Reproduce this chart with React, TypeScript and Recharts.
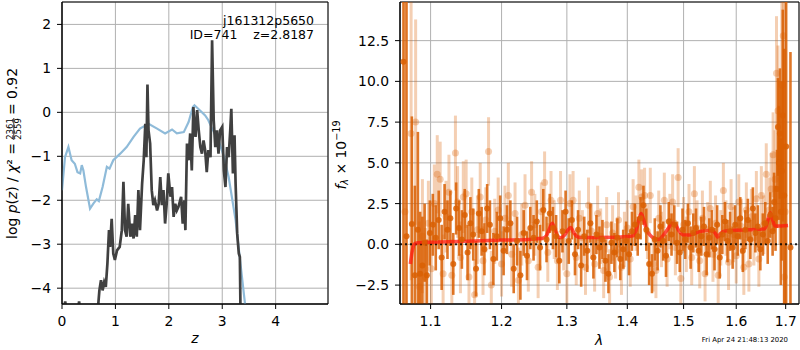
import React from 'react';
import {
  LineChart, Line, XAxis, YAxis, CartesianGrid, ComposedChart, Scatter, ErrorBar,
  ReferenceLine, ReferenceArea,
} from 'recharts';

const FONT = '"DejaVu Sans", sans-serif';
const ORANGE_DARK = 'rgba(217,95,2,0.85)';
const ORANGE_LIGHT = 'rgba(217,95,2,0.3)';

// left panel: redshift axis
const zTicks = [0, 1, 2, 3, 4];
const pzTicks = [-4, -3, -2, -1, 0, 1, 2];
const Z_DOMAIN: [number, number] = [0, 4.98];
const PZ_DOMAIN: [number, number] = [-4.36, 2.51];

// right panel: wavelength axis (log scale)
const waveTicks = [1.1, 1.2, 1.3, 1.4, 1.5, 1.6, 1.7];
const fluxTicks = [-2.5, 0, 2.5, 5, 7.5, 10, 12.5];
const WAVE_DOMAIN: [number, number] = [1.0595, 1.728];
const FLUX_DOMAIN: [number, number] = [-3.66, 14.87];

// chi2 curve [z, value]
const chi2Curve: [number, number][] = [
  [0, -1.77], [0.056, -1.02], [0.12, -0.79], [0.18, -1.09], [0.24, -1.17], [0.29, -1.36],
  [0.34, -1.39], [0.37, -1.2], [0.4, -1.32], [0.45, -1.7], [0.525, -2.19], [0.59, -2.07],
  [0.65, -1.98], [0.69, -2.02], [0.76, -1.7], [0.84, -1.24], [0.89, -1.28], [0.96, -1.09],
  [1.09, -0.94], [1.21, -0.79], [1.34, -0.56], [1.46, -0.37], [1.62, -0.26], [1.78, -0.37],
  [1.93, -0.48], [2.06, -0.39], [2.15, -0.48], [2.28, -0.45], [2.37, -0.22], [2.45, 0.12],
  [2.48, 0.16], [2.55, 0.08], [2.68, -0.07], [2.74, -0.18], [2.81, -0.37], [2.93, -0.64],
  [3.03, -1.0], [3.12, -1.47], [3.25, -2.45], [3.34, -3.43], [3.43, -4.4],
];

// log p(z) curve [z, value]
const pzCurve: [number, number][] = [
  [0, -4.6], [0.04, -4.45], [0.06, -4.3], [0.08, -4.5], [0.2, -4.8], [0.3, -4.5], [0.32, -4.3],
  [0.34, -4.5], [0.5, -4.9], [0.66, -4.7], [0.68, -4.35], [0.7, -4.05], [0.73, -3.82],
  [0.76, -4.05], [0.79, -3.86], [0.82, -3.97], [0.85, -3.44], [0.88, -2.68], [0.9, -3.06],
  [0.93, -2.42], [0.96, -3.21], [0.99, -3.36], [1.03, -3.14], [1.08, -3.06], [1.12, -2.68],
  [1.15, -1.58], [1.18, -2.68], [1.21, -2.83], [1.24, -2.08], [1.28, -2.83], [1.31, -2.53],
  [1.34, -2.87], [1.37, -2.34], [1.4, -2.83], [1.43, -1.77], [1.46, -2.68], [1.5, -1.62],
  [1.53, -1.09], [1.56, -0.26], [1.58, -1.02], [1.6, 0.63], [1.62, -0.41], [1.65, -0.71],
  [1.68, -1.77], [1.71, -2.11], [1.74, -2.0], [1.78, -2.23], [1.81, -2.08], [1.84, -1.47],
  [1.87, -2.11], [1.9, -1.77], [1.93, -2.53], [1.96, -2.08], [1.99, -1.39], [2.03, -1.92],
  [2.06, -1.7], [2.09, -2.38], [2.12, -2.08], [2.15, -2.23], [2.18, -2.15], [2.23, -1.92],
  [2.26, -2.53], [2.29, -2.0], [2.31, -2.68], [2.34, -0.71], [2.37, -1.09], [2.4, -0.48],
  [2.43, -1.32], [2.46, 0.12], [2.48, -0.33], [2.5, -0.56], [2.53, 0.05], [2.56, -0.41],
  [2.59, -0.79], [2.62, -0.94], [2.65, -0.64], [2.68, -0.86], [2.71, -1.36], [2.74, -0.86],
  [2.78, -1.02], [2.81, 1.64], [2.84, -0.18], [2.87, -0.79], [2.9, -0.41], [2.93, -0.94],
  [2.96, -0.41], [3.0, -0.33], [3.03, -1.32], [3.06, -1.7], [3.09, -0.79], [3.12, -1.02],
  [3.15, -0.41], [3.17, 0.08], [3.2, -1.39], [3.23, -0.52], [3.25, -1.62], [3.28, -2.76],
  [3.31, -3.21], [3.33, -3.29], [3.34, -4.35], [3.36, -5.0],
];

// best-fit template [lambda, flux]
const modelCurve: [number, number][] = [
  [1.073, -1.2], [1.076, -0.3], [1.079, 0.05], [1.083, 0.1], [1.09, 0.12], [1.1, 0.13],
  [1.15, 0.19], [1.2, 0.26], [1.24, 0.3], [1.262, 0.37], [1.268, 0.55], [1.273, 1.0],
  [1.277, 1.3], [1.281, 0.95], [1.285, 0.55], [1.29, 0.4], [1.296, 0.55], [1.301, 0.85],
  [1.306, 1.04], [1.311, 0.72], [1.316, 0.48], [1.322, 0.42], [1.35, 0.42], [1.38, 0.43],
  [1.4, 0.48], [1.41, 0.52], [1.416, 0.95], [1.421, 1.65], [1.424, 1.9], [1.428, 1.55],
  [1.433, 0.95], [1.44, 0.55], [1.448, 0.35], [1.455, 0.3], [1.463, 0.55], [1.472, 0.98],
  [1.479, 1.3], [1.485, 1.22], [1.492, 0.8], [1.5, 0.57], [1.51, 0.57], [1.52, 0.66],
  [1.53, 0.78], [1.545, 0.85], [1.555, 0.82], [1.56, 0.65], [1.564, 0.43], [1.569, 0.65],
  [1.58, 0.84], [1.6, 0.86], [1.62, 0.89], [1.645, 0.92], [1.657, 0.96], [1.663, 1.45],
  [1.668, 1.94], [1.673, 1.5], [1.678, 1.12], [1.69, 1.12], [1.705, 1.15],
];

// spectrum, strong points [lambda, flux, err]
const darkPoints: [number, number, number][] = [
  [1.064, 11.2, 20], [1.068, 0.5, 16], [1.075, 1.25, 6.6], [1.079, -1.9, 5.5], [1.083, 0.9, 6.0],
  [1.086, -1.8, 3.8], [1.089, -1.3, 3.0], [1.092, 0.1, 2.4], [1.095, -1.9, 2.2], [1.099, 0.7, 2.0],
  [1.103, 1.2, 1.9], [1.107, 0.4, 2.0], [1.111, 1.5, 1.8], [1.115, -0.8, 2.0], [1.119, 2.0, 1.7],
  [1.123, 0.9, 1.8], [1.127, 1.6, 1.7], [1.131, -1.2, 1.9], [1.135, 2.2, 1.6], [1.139, 1.0, 1.7],
  [1.143, 0.3, 1.8], [1.147, 1.8, 1.6], [1.151, -0.5, 1.7], [1.155, 1.3, 1.6], [1.159, 0.6, 1.6],
  [1.163, -1.5, 1.7], [1.167, 1.9, 1.5], [1.171, 0.8, 1.5], [1.175, -0.3, 1.6], [1.179, 2.2, 1.5],
  [1.183, 1.2, 1.5], [1.188, -0.9, 1.6], [1.193, 0.5, 1.5], [1.198, 1.6, 1.4], [1.203, -0.4, 1.5],
  [1.208, 0.9, 1.5], [1.213, 1.3, 1.4], [1.218, -1.5, 1.5], [1.223, 0.2, 1.5], [1.228, -1.9, 1.5],
  [1.233, 0.7, 1.4], [1.238, -0.7, 1.5], [1.243, 1.0, 1.3], [1.248, 0.4, 1.4], [1.253, 1.4, 1.3],
  [1.258, -0.2, 1.4], [1.263, 2.1, 1.3], [1.268, 0.3, 1.4], [1.273, 1.9, 1.2], [1.278, 1.0, 1.3],
  [1.283, 0.5, 1.3], [1.288, -1.0, 1.4], [1.293, 0.8, 1.3], [1.298, 2.0, 1.3], [1.303, 0.2, 1.4],
  [1.308, 1.5, 1.2], [1.313, -0.6, 1.3], [1.318, 0.9, 1.2], [1.323, -1.3, 1.3], [1.328, 0.5, 1.2],
  [1.333, -0.4, 1.3], [1.338, 1.3, 1.2], [1.343, -0.8, 1.3], [1.348, 0.6, 1.2], [1.353, -0.2, 1.3],
  [1.358, 0.3, 1.2], [1.363, -1.0, 1.3], [1.368, -1.8, 1.2], [1.373, 0.1, 1.3], [1.378, -0.5, 1.2],
  [1.383, 0.4, 1.2], [1.388, -0.9, 1.3], [1.393, -0.3, 1.2], [1.398, 0.2, 1.2], [1.403, -0.6, 1.3],
  [1.408, 0.8, 1.2], [1.413, 1.2, 1.3], [1.418, 0.5, 1.2], [1.423, 1.6, 1.3], [1.428, 2.4, 1.2],
  [1.433, 0.9, 1.3], [1.438, -1.2, 1.3], [1.443, -1.8, 1.2], [1.448, 0.3, 1.3], [1.453, -0.4, 1.2],
  [1.458, 1.1, 1.3], [1.463, 0.2, 1.2], [1.468, -0.7, 1.3], [1.473, 1.4, 1.2], [1.478, 0.6, 1.3],
  [1.483, 1.2, 1.2], [1.488, 0.1, 1.3], [1.493, -0.5, 1.2], [1.498, 0.9, 1.3], [1.503, 0.3, 1.2],
  [1.508, 1.3, 1.2], [1.513, -0.2, 1.3], [1.518, 0.7, 1.2], [1.523, 1.0, 1.2], [1.528, -0.4, 1.3],
  [1.533, 0.5, 1.2], [1.538, 1.1, 1.2], [1.543, -0.6, 1.3], [1.548, 0.4, 1.2], [1.553, 0.9, 1.2],
  [1.558, -0.3, 1.3], [1.563, 1.2, 1.2], [1.568, -0.8, 1.3], [1.573, 0.6, 1.2], [1.578, 1.4, 1.2],
  [1.583, 0.2, 1.3], [1.588, 0.8, 1.2], [1.593, -0.2, 1.3], [1.598, 1.2, 1.2], [1.603, 0.5, 1.2],
  [1.608, 1.6, 1.3], [1.613, -0.4, 1.3], [1.618, 0.9, 1.2], [1.623, 1.5, 1.3], [1.628, 0.3, 1.2],
  [1.633, 2.2, 1.3], [1.638, 0.7, 1.2], [1.643, 1.1, 1.3], [1.648, -0.3, 1.3], [1.653, 0.6, 1.3],
  [1.658, 1.3, 1.3], [1.663, 0.2, 1.4], [1.668, 1.8, 1.4], [1.673, 0.8, 1.5], [1.676, 2.6, 1.8],
  [1.679, 1.6, 2.0], [1.682, 3.4, 2.4], [1.684, 7.2, 3.0], [1.686, 5.0, 3.5], [1.688, 6.8, 4.0],
  [1.69, 2.0, 4.5], [1.692, 4.5, 5.5], [1.694, 7.9, 6.5], [1.697, 3.0, 9], [1.701, 6.0, 10],
  [1.71, -0.2, 12],
];

// spectrum, weak points [lambda, flux, err]
const lightPoints: [number, number, number][] = [
  [1.066, 2.0, 20], [1.074, 6.8, 9], [1.08, 7.5, 6.3], [1.085, -2.6, 4], [1.089, 0.5, 3.5],
  [1.093, -2.0, 3.0], [1.097, 1.3, 2.6], [1.101, -1.5, 2.5], [1.105, 2.5, 2.4], [1.109, 4.3, 2.4],
  [1.113, 4.0, 2.3], [1.117, -1.8, 2.4], [1.121, 1.7, 2.2], [1.125, 3.2, 2.3], [1.129, -1.9, 2.2],
  [1.134, 5.6, 2.3], [1.137, 2.6, 2.2], [1.141, -0.8, 2.2], [1.145, 2.9, 2.2], [1.149, 3.1, 2.1],
  [1.153, -2.0, 2.2], [1.157, 2.0, 2.1], [1.161, -3.1, 2.2], [1.165, 0.9, 2.1], [1.169, 2.9, 2.1],
  [1.173, -1.0, 2.1], [1.177, 1.5, 2.0], [1.181, 5.7, 2.1], [1.185, -2.5, 2.1], [1.19, 0.8, 2.0],
  [1.195, 2.1, 2.0], [1.2, -1.2, 2.0], [1.205, 1.6, 2.0], [1.21, 3.0, 2.0], [1.215, -0.6, 2.0],
  [1.22, 1.9, 1.9], [1.225, -2.2, 2.0], [1.23, 0.6, 1.9], [1.235, 2.4, 1.9], [1.24, -1.0, 1.9],
  [1.245, 3.2, 1.9], [1.25, 1.2, 1.9], [1.255, -1.4, 1.9], [1.26, 2.0, 1.8], [1.265, 3.8, 1.9],
  [1.27, -0.5, 1.8], [1.275, 2.7, 1.8], [1.28, 0.9, 1.8], [1.285, -1.0, 1.8], [1.29, 2.7, 1.8],
  [1.295, 0.2, 1.8], [1.3, -1.8, 1.8], [1.305, 2.5, 1.8], [1.31, 2.7, 1.8], [1.315, -0.8, 1.7],
  [1.32, 1.6, 1.7], [1.325, 0.4, 1.7], [1.33, -1.4, 1.7], [1.335, 2.4, 1.7], [1.34, 0.8, 1.7],
  [1.345, -1.2, 1.7], [1.35, 1.9, 1.7], [1.355, 0.5, 1.7], [1.36, -1.6, 1.7], [1.365, 1.2, 1.7],
  [1.37, -2.0, 1.7], [1.375, 0.7, 1.7], [1.38, -0.4, 1.7], [1.385, 1.5, 1.7], [1.39, -1.4, 1.7],
  [1.395, 0.3, 1.7], [1.4, 1.0, 1.7], [1.405, -0.9, 1.7], [1.41, 2.3, 1.7], [1.415, 1.3, 1.7],
  [1.42, 3.5, 1.7], [1.425, 2.9, 1.7], [1.43, 3.0, 1.7], [1.435, 0.8, 1.7], [1.44, 3.0, 1.7],
  [1.445, -1.2, 1.7], [1.45, -1.6, 1.7], [1.455, 1.6, 1.7], [1.46, 0.3, 1.7], [1.465, 2.7, 1.7],
  [1.47, -0.9, 1.7], [1.475, 1.4, 1.7], [1.48, 2.6, 1.7], [1.485, -0.2, 1.7], [1.49, 4.1, 1.8],
  [1.495, -2.1, 1.7], [1.5, 1.2, 1.7], [1.505, 0.0, 1.7], [1.51, 2.0, 1.7], [1.515, -0.8, 1.7],
  [1.52, 3.1, 1.7], [1.525, 1.0, 1.7], [1.53, -1.0, 1.7], [1.535, 1.6, 1.7], [1.54, -1.8, 1.7],
  [1.545, 0.9, 1.7], [1.55, 2.2, 1.7], [1.555, -0.6, 1.7], [1.56, 1.3, 1.7], [1.565, -1.9, 1.7],
  [1.57, 0.4, 1.7], [1.575, 3.3, 1.7], [1.58, 1.0, 1.7], [1.585, -1.1, 1.7], [1.59, 2.3, 1.7],
  [1.595, 0.6, 1.7], [1.6, -0.7, 1.7], [1.605, 2.6, 1.7], [1.61, 1.1, 1.7], [1.615, -1.4, 1.7],
  [1.62, 2.1, 1.7], [1.625, -1.2, 1.7], [1.63, 1.7, 1.7], [1.635, 0.4, 1.7], [1.64, 2.8, 1.7],
  [1.645, -0.9, 1.7], [1.65, 3.0, 1.8], [1.655, 1.2, 1.8], [1.66, 4.3, 1.9], [1.666, 2.1, 2.0],
  [1.67, 3.4, 2.2], [1.674, 5.5, 2.6], [1.678, 4.0, 3], [1.681, 10.5, 3.5], [1.684, 8.2, 4],
  [1.688, 5.0, 5], [1.692, 9.8, 6], [1.695, 12.8, 7], [1.697, -2.0, 12], [1.699, 2.0, 13],
];

// error bars are cut at the plot frame, like matplotlib does
const toSpec = ([w, f, e]: [number, number, number]) => ({
  w, f, e: [Math.min(e, f - FLUX_DOMAIN[0]), Math.min(e, FLUX_DOMAIN[1] - f)],
});

const chi2Data = chi2Curve.map(([z, v]) => ({ z, v }));
const pzData = pzCurve.map(([z, v]) => ({ z, v }));
const modelData = modelCurve.map(([w, f]) => ({ w, f }));
const darkData = darkPoints.map(toSpec);
const lightData = lightPoints.map(toSpec);

const minus = (s: string) => s.replace('-', '\u2212');
const tickStyle = { fill: '#000', fontSize: 13.9, fontFamily: FONT };

const App: React.FC = () => {
  return (
    <div style={{ position: 'absolute', left: 0, top: 0, width: 800, height: 350, background: '#fff' }}>
      <div style={{ position: 'absolute', left: 0, top: 0 }}>
        <LineChart width={340} height={350} margin={{ top: 2, right: 12, bottom: 0, left: 0 }}>
          <CartesianGrid stroke="#b0b0b0" strokeWidth={1} />
          <XAxis
            dataKey="z" type="number" domain={Z_DOMAIN} ticks={zTicks} allowDataOverflow
            height={46} tickSize={5} tickMargin={7} stroke="#000" tick={tickStyle}
            tickFormatter={(v) => String(v)}
          />
          <YAxis
            type="number" domain={PZ_DOMAIN} ticks={pzTicks} allowDataOverflow
            width={62} tickSize={5} tickMargin={6} stroke="#000" tick={tickStyle}
            tickFormatter={(v) => minus(String(v))}
          />
          <Line data={chi2Data} dataKey="v" type="linear" stroke="#8fbbd9" strokeWidth={2.2} dot={false} isAnimationActive={false} />
          <Line data={pzData} dataKey="v" type="linear" stroke="#404040" strokeWidth={2.7} dot={false} isAnimationActive={false} />
          <ReferenceArea x1={Z_DOMAIN[0]} x2={Z_DOMAIN[1]} y1={PZ_DOMAIN[0]} y2={PZ_DOMAIN[1]} fill="none" stroke="#000" strokeWidth={1} ifOverflow="visible" />
        </LineChart>
      </div>

      <div style={{ position: 'absolute', left: 330, top: 0 }}>
        <ComposedChart width={470} height={350} margin={{ top: 2, right: 1, bottom: 0, left: 0 }}>
          <CartesianGrid stroke="#b0b0b0" strokeWidth={1} />
          <XAxis
            dataKey="w" type="number" scale="log" domain={WAVE_DOMAIN} ticks={waveTicks} allowDataOverflow
            height={46} tickSize={5} tickMargin={7} stroke="#000" tick={tickStyle}
            tickFormatter={(v) => Number(v).toFixed(1)}
          />
          <YAxis
            dataKey="f" type="number" domain={FLUX_DOMAIN} ticks={fluxTicks} allowDataOverflow
            width={70} tickSize={5} tickMargin={6} stroke="#000" tick={tickStyle}
            tickFormatter={(v) => minus(Number(v).toFixed(1))}
          />
          <Scatter
            data={lightData} isAnimationActive={false}
            shape={(p: any) => <circle cx={p.cx} cy={p.cy} r={3.5} fill={ORANGE_LIGHT} />}
          >
            <ErrorBar dataKey="e" direction="y" width={0} stroke={ORANGE_LIGHT} strokeWidth={3} isAnimationActive={false} />
          </Scatter>
          <Scatter
            data={darkData} isAnimationActive={false}
            shape={(p: any) => <circle cx={p.cx} cy={p.cy} r={3} fill={ORANGE_DARK} />}
          >
            <ErrorBar dataKey="e" direction="y" width={0} stroke={ORANGE_DARK} strokeWidth={2.6} isAnimationActive={false} />
          </Scatter>
          <ReferenceLine y={0} stroke="#000" strokeOpacity={0.85} strokeDasharray="2 3" strokeWidth={2} />
          <Line data={modelData} dataKey="f" type="monotone" stroke="rgba(255,25,15,0.75)" strokeWidth={3.5} dot={false} isAnimationActive={false} />
          <ReferenceArea x1={WAVE_DOMAIN[0]} x2={WAVE_DOMAIN[1]} y1={FLUX_DOMAIN[0]} y2={FLUX_DOMAIN[1]} fill="none" stroke="#000" strokeWidth={1} ifOverflow="visible" />
        </ComposedChart>
      </div>

      <svg width={800} height={350} style={{ position: 'absolute', left: 0, top: 0, pointerEvents: 'none' }} fontFamily={FONT} fill="#000">
        {/* left y label with the chi2 fraction */}
        <g transform="translate(17,240) rotate(-90)" fontSize={13.9}>
          <text x={97} y={0} textAnchor="end">
            log <tspan fontStyle="italic">p</tspan>(<tspan fontStyle="italic">z</tspan>) / <tspan fontStyle="italic">χ</tspan>² =
          </text>
          <text x={111} y={-4.3} textAnchor="middle" fontSize={8.5}>2361</text>
          <line x1={100} x2={122} y1={-3.2} y2={-3.2} stroke="#000" strokeWidth={0.8} />
          <text x={111} y={4} textAnchor="middle" fontSize={8.5}>2559</text>
          <text x={125} y={0}>= 0.92</text>
        </g>
        <text x={314} y={24.5} textAnchor="end" fontSize={12.5}>j161312p5650</text>
        <text x={314} y={39} textAnchor="end" fontSize={12.5} style={{ whiteSpace: 'pre' }}>ID=741    z=2.8187</text>
        <text x={195} y={343} textAnchor="middle" fontStyle="italic" fontSize={13.9}>z</text>

        <text transform="translate(345.5,155) rotate(-90)" textAnchor="middle" fontSize={13.9}>
          <tspan fontStyle="italic">f</tspan>
          <tspan fontStyle="italic" fontSize={9.7} dy={2.5}>λ</tspan>
          <tspan dy={-2.5}> × 10</tspan>
          <tspan fontSize={9.7} dy={-5.5}>−19</tspan>
        </text>
        <text x={599} y={345} textAnchor="middle" fontStyle="italic" fontSize={13.9}>λ</text>
        <text x={788} y={342} textAnchor="end" fontSize={6.9}>Fri Apr 24 21:48:13 2020</text>
      </svg>
    </div>
  );
};

export default App;
